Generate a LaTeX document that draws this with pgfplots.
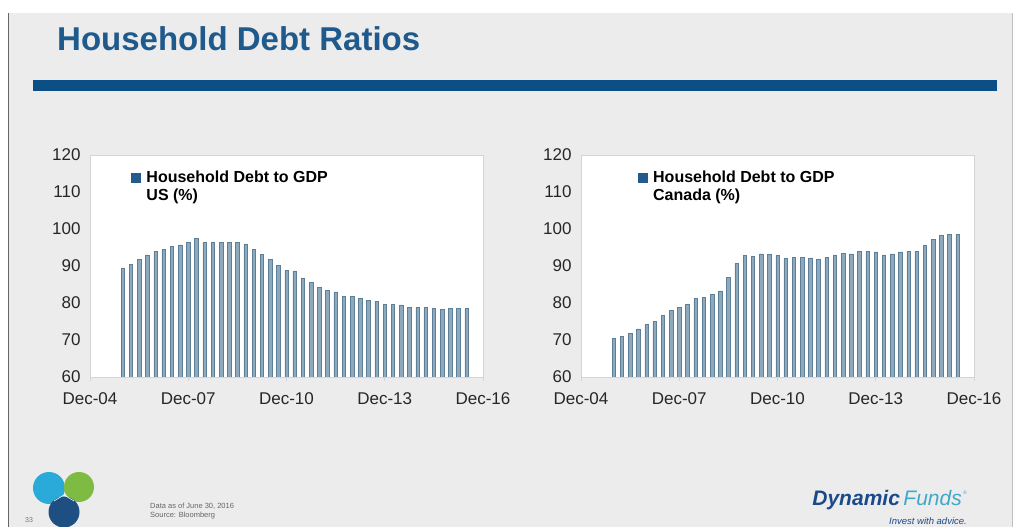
\documentclass[border=0pt]{standalone}
\usepackage{pgfplots}
\pgfplotsset{compat=1.18}
\usepackage{fontspec}
\setmainfont{Liberation Sans}
\definecolor{bg}{HTML}{ECECEC}
\definecolor{titleblue}{HTML}{1F5A8C}
\definecolor{rulebl}{HTML}{0B4F86}
\definecolor{axgray}{HTML}{D4D4D4}
\definecolor{barfill}{HTML}{8EA8BC}
\definecolor{baredge}{HTML}{5E7F98}
\definecolor{legblue}{HTML}{245B8C}
\definecolor{lcyan}{HTML}{2AAAD8}
\definecolor{lgreen}{HTML}{7DBB42}
\definecolor{lnavy}{HTML}{1D4F82}
\definecolor{dynblue}{HTML}{1B4A8A}
\definecolor{fundteal}{HTML}{3FA9C9}

\pgfplotstableread{
x y
1.00 89.5
1.25 90.5
1.50 91.8
1.75 93.0
2.00 94.0
2.25 94.5
2.50 95.3
2.75 95.7
3.00 96.3
3.25 97.5
3.50 96.3
3.75 96.3
4.00 96.3
4.25 96.3
4.50 96.3
4.75 96.0
5.00 94.5
5.25 93.2
5.50 91.7
5.75 90.2
6.00 88.8
6.25 88.7
6.50 86.8
6.75 85.5
7.00 84.3
7.25 83.5
7.50 83.0
7.75 81.8
8.00 81.8
8.25 81.2
8.50 80.8
8.75 80.5
9.00 79.7
9.25 79.7
9.50 79.5
9.75 78.8
10.00 78.8
10.25 78.8
10.50 78.5
10.75 78.2
11.00 78.5
11.25 78.5
11.50 78.5
}\usdata

\pgfplotstableread{
x y
1.00 70.5
1.25 71.0
1.50 71.8
1.75 73.0
2.00 74.3
2.25 75.0
2.50 76.7
2.75 78.0
3.00 78.8
3.25 79.6
3.50 81.2
3.75 81.5
4.00 82.3
4.25 83.3
4.50 87.0
4.75 90.7
5.00 92.8
5.25 92.7
5.50 93.3
5.75 93.2
6.00 92.9
6.25 92.0
6.50 92.4
6.75 92.3
7.00 92.2
7.25 91.7
7.50 92.3
7.75 93.0
8.00 93.4
8.25 93.3
8.50 94.0
8.75 94.0
9.00 93.8
9.25 93.0
9.50 93.3
9.75 93.8
10.00 94.0
10.25 94.0
10.50 95.6
10.75 97.2
11.00 98.2
11.25 98.6
11.50 98.5
}\cadata

\pgfplotsset{
  myax/.style={
    scale only axis, width=393pt, height=222pt,
    xmin=0, xmax=12, ymin=60, ymax=120,
    xtick={0,3,6,9,12},
    xticklabels={Dec-04,Dec-07,Dec-10,Dec-13,Dec-16},
    ytick={60,70,...,120},
    axis background/.style={fill=white},
    axis line style={draw=axgray, line width=0.8pt},
    tick label style={font=\fontsize{17}{20}\selectfont, text=black!85},
    /pgf/number format/assume math mode=true,
    xtick style={draw=axgray, line width=0.8pt},
    ytick style={draw=none},
    tick align=outside, major tick length=4pt,
    xtick pos=bottom, ytick pos=left,
    yticklabel style={xshift=-2pt},
    xticklabel style={yshift=-8pt},
    legend image code/.code={\fill[legblue, draw=none] (0pt,3.5pt) rectangle (9.5pt,13pt);
      \path[draw=none, fill=none] (0pt,3.5pt) rectangle (13pt,13pt);},
    legend style={draw=none, fill=none, inner sep=0pt,
      font=\bfseries\fontsize{16}{18}\selectfont, cells={align=left}, anchor=north west},
  },
  mybar/.style={ybar, bar width=3.5pt, fill=barfill, draw=baredge, line width=0.5pt}
}

\begin{document}
\begin{tikzpicture}[x=1pt,y=1pt]
\useasboundingbox (0pt,0pt) rectangle (1017pt,527pt);
\fill[white] (0pt,0pt) rectangle (1017pt,527pt);
\fill[bg] (8pt,0pt) rectangle (1012pt,514pt);
\draw[black!60, line width=1.5pt] (8.5pt,0pt) -- (8.5pt,514pt);
\draw[black!25, line width=1pt] (1012pt,0pt) -- (1012pt,514pt);
\node[anchor=base west, inner sep=0, text=titleblue,
  font=\bfseries\fontsize{33}{36}\selectfont] at (57pt,476pt) {Household Debt Ratios};
\fill[rulebl] (33pt,436pt) rectangle (997pt,447pt);

\begin{axis}[myax, at={(90pt,150pt)}, anchor=south west,
  legend style={at={(0.105,0.94)}}]
\addplot[mybar] table[x=x,y=y] {\usdata};
\addlegendentry{Household Debt to GDP\\US (\%)}
\end{axis}

\begin{axis}[myax, at={(581pt,150pt)}, anchor=south west,
  legend style={at={(0.145,0.94)}}]
\addplot[mybar] table[x=x,y=y] {\cadata};
\addlegendentry{Household Debt to GDP\\Canada (\%)}
\end{axis}

% footer
\fill[lcyan] (49pt,39pt) circle (16pt);
\fill[lgreen] (79pt,40pt) circle (15pt);
\fill[lnavy] (64pt,15pt) circle (15.5pt);
\draw[white, line width=0.6pt] (54pt,26pt) -- (64pt,32pt) -- (74pt,26pt);
\node[anchor=base west, inner sep=0, font=\fontsize{7}{8}\selectfont, text=black!55] at (25pt,4pt) {33};
\node[anchor=base west, inner sep=0, font=\fontsize{7.5}{9}\selectfont, text=black!60] at (150pt,18pt) {Data as of June 30, 2016};
\node[anchor=base west, inner sep=0, font=\fontsize{7.5}{9}\selectfont, text=black!60] at (150pt,9pt) {Source: Bloomberg};
\node[anchor=base east, inner sep=0, font=\fontsize{21}{23}\selectfont\itshape] at (962pt,21pt)
  {\textcolor{dynblue}{\bfseries Dynamic}\,\textcolor{fundteal}{Funds}};
\node[anchor=base west, inner sep=0, font=\fontsize{5}{5}\selectfont, text=fundteal] at (963pt,32pt) {\textregistered};
\node[anchor=base east, inner sep=0, font=\fontsize{9.5}{11}\selectfont\itshape, text=dynblue] at (967pt,2pt) {Invest with advice.};
\end{tikzpicture}
\end{document}
